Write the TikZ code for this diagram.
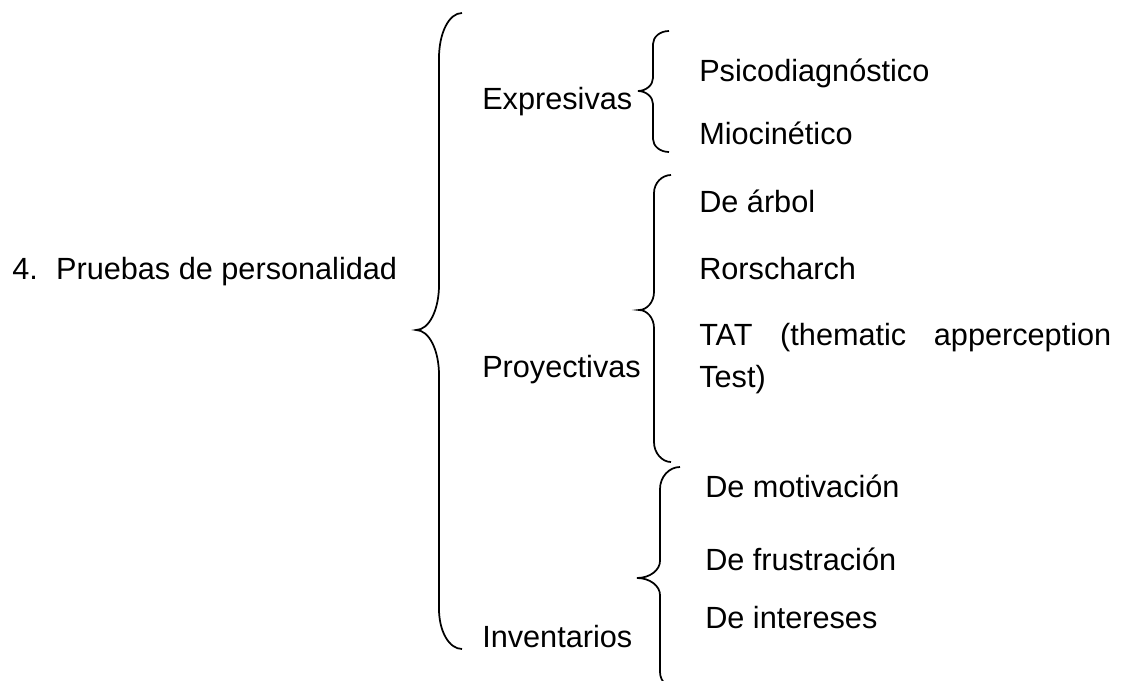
\documentclass[tikz,border=0pt]{standalone}
\usepackage{fontspec}
\setmainfont{Liberation Sans}
\begin{document}
\begin{tikzpicture}[x = 0.75pt, y = -0.75pt]
    \useasboundingbox (0,0) rectangle (1122,681);
    \begin{scope}[line width = 1.3pt]
        % llave grande
        \draw (462,13) .. controls (449,13) and (439,33) .. (439,58) -- (439,285) .. controls (439,310) and (429,330) .. (416,330) .. controls (429,330) and (439,350) .. (439,375) -- (439,609) .. controls (439,631) and (449,649) .. (462,649);
        % llaves de la derecha
        \draw (669,31) .. controls (660,31) and (653,37) .. (653,44) -- (653,78) .. controls (653,85) and (646,91) .. (638,91) .. controls (646,91) and (653,97) .. (653,104) -- (653,139) .. controls (653,146) and (660,152) .. (669,152);
        \draw (671,175) .. controls (662,175) and (654,183) .. (654,193) -- (654,292) .. controls (654,302) and (647,310) .. (639,310) .. controls (647,310) and (654,318) .. (654,328) -- (654,442) .. controls (654,453) and (662,462) .. (671,462);
        \draw (680,467) .. controls (669,467) and (660,477) .. (660,489) -- (660,561) .. controls (660,570) and (650,578) .. (637,578) .. controls (650,578) and (660,586) .. (660,595) -- (660,672) .. controls (660,682) and (669,690) .. (680,690);
    \end{scope}
    \begin{scope}[every node/.append style = {font = \fontsize{23}{31.5}\selectfont, anchor = base west, inner sep = 0pt}]
        \node (pers) at (12,280) {4.\hspace{13.7pt}Pruebas de personalidad};
        \node (expr) at (482,110) {Expresivas};
        \node (proy) at (482,377) {Proyectivas};
        \node (inv) at (482,647) {Inventarios};
        \node (psico) at (699,82) {Psicodiagnóstico};
        \node (mioc) at (699,145) {Miocinético};
        \node (arbol) at (699,213) {De árbol};
        \node (rors) at (699,280) {Rorscharch};
        \node[text width = 309pt, align = justify] (tat) at (699,345) {TAT (thematic apperception Test)};
        \node (motiv) at (705,497) {De motivación};
        \node (frust) at (705,570) {De frustración};
        \node (inter) at (705,628) {De intereses};
    \end{scope}
\end{tikzpicture}
\end{document}
